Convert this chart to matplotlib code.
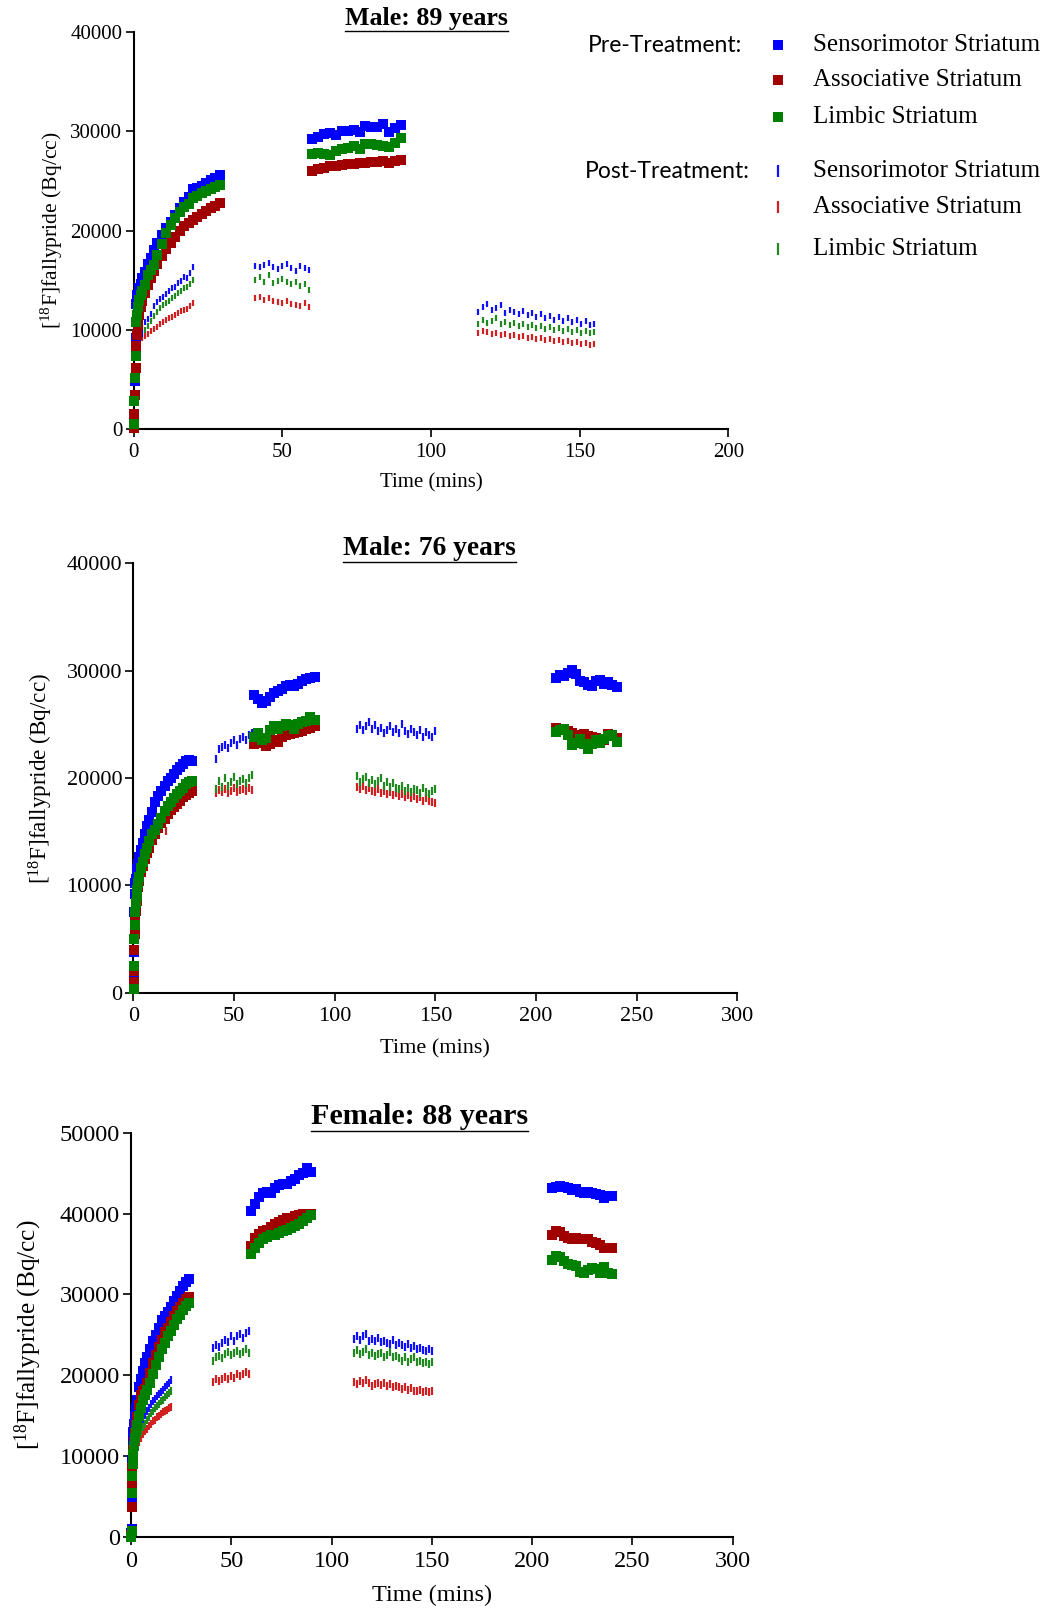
import matplotlib
matplotlib.use("Agg")
import matplotlib.pyplot as plt
from matplotlib.lines import Line2D

plt.rcParams['font.family'] = ['Liberation Serif', 'DejaVu Serif']
plt.rcParams['mathtext.fontset'] = 'custom'
plt.rcParams['mathtext.rm'] = 'Liberation Serif'
plt.rcParams['mathtext.it'] = 'Liberation Serif:italic'

# ------------------------------- frame times (mins) -------------------------------
t_pre1 = [0.1, 0.3, 0.5, 0.7, 0.9, 1.2, 1.6, 2.0, 2.5, 3.0, 4.0, 5.0, 6.0, 7.0, 8.0,
          9.5, 11.0, 12.5, 14.0, 15.5, 17.0, 18.5, 20.0, 21.5, 23.0, 24.5, 26.0, 27.5, 29.0]
t_pre2 = [60, 62, 64, 66, 68, 70, 72, 74, 76, 78, 80, 82, 84, 86, 88, 90]
t_pre3 = [210, 212, 214, 216, 218, 220, 222, 224, 226, 228, 230, 232, 234, 236, 238, 240]
t_post1 = [2, 3, 4, 5, 6, 7, 8, 9, 10, 11, 12, 13, 14, 15, 16, 17, 18, 19, 20]
t_post2 = [41, 42.5, 44, 45.5, 47, 48.5, 50, 51.5, 53, 54.5, 56, 57.5, 59]
t_post3_m89 = [116, 117.5, 119, 120.5, 122, 123.5, 125, 126.5, 128, 129.5, 131, 132.5, 134, 135.5,
               137, 138.5, 140, 141.5, 143, 144.5, 146, 147.5, 149, 150.5, 152, 153.5, 155]
t_post3 = [111, 112.5, 114, 115.5, 117, 118.5, 120, 121.5, 123, 124.5, 126, 127.5, 129, 130.5,
           132, 133.5, 135, 136.5, 138, 139.5, 141, 142.5, 144, 145.5, 147, 148.5, 150]

regions = ['Sensorimotor Striatum', 'Associative Striatum', 'Limbic Striatum']

# ------------------------------- Male: 89 years -------------------------------
m89_pre1_sm = [200, 1200, 4800, 9200, 12600, 13500, 9800, 14200, 14600, 15200, 15800, 16600, 17200, 18000, 18700,
               19500, 20300, 20900, 21600, 22300, 22900, 23400, 24200, 24300, 24500, 24800, 25100, 25300, 25600]
m89_pre1_as = [100, 1500, 3400, 6100, 8400, 9500, 10500, 11500, 12300, 12900, 13700, 14500, 15200, 15900, 16600,
               17400, 18100, 18700, 19300, 19900, 20500, 20800, 21100, 21400, 21700, 22000, 22300, 22500, 22800]
m89_pre1_li = [500, 2800, 5100, 7400, 10800, 11500, 12300, 13000, 13500, 13900, 14500, 15500, 16000, 16500, 17500,
               18600, 19700, 20600, 21300, 21900, 22400, 22700, 23300, 23500, 23800, 24000, 24200, 24400, 24600]
m89_pre2_sm = [29200, 29400, 29700, 29800, 29600, 30000, 30000, 30100, 29900, 30500, 30400, 30400, 30700, 29900, 30300, 30600]
m89_pre2_as = [26000, 26200, 26300, 26500, 26500, 26600, 26700, 26700, 26800, 26800, 26900, 26900, 27000, 26800, 27000, 27100]
m89_pre2_li = [27700, 27800, 27700, 27600, 28000, 28200, 28300, 28500, 28200, 28700, 28700, 28600, 28500, 28400, 28800, 29300]

m89_post1_sm = [9400, 10200, 10800, 11100, 11600, 12400, 12800, 13100, 13300, 13600, 13900, 14200, 14300, 14700,
                14900, 15300, 15200, 15700, 16300]
m89_post1_as = [8800, 9200, 9400, 9600, 9900, 10100, 10300, 10600, 10800, 11000, 11200, 11300, 11500, 11700,
                11900, 12000, 12100, 12400, 12700]
m89_post1_li = [9100, 9600, 10000, 10400, 10900, 11400, 11800, 12200, 12500, 12700, 12900, 13200, 13400, 13700,
                13900, 14200, 14300, 14600, 15000]
m89_post2_sm = [16400, 16300, 16500, 16700, 16300, 16100, 16400, 16600, 16200, 15900, 16400, 16200, 16000]
m89_post2_as = [13200, 13300, 13000, 13200, 12900, 12800, 12700, 12900, 12600, 12500, 12400, 12700, 12300]
m89_post2_li = [15000, 15300, 14800, 15500, 14700, 14900, 15100, 14800, 14600, 14800, 14400, 14600, 14000]
m89_post3_sm = [11800, 12300, 12600, 12000, 12200, 12500, 11700, 12000, 11800, 11600, 11900, 11500, 11700, 11300,
                11600, 11200, 11400, 11000, 11300, 10900, 11200, 10800, 11000, 10600, 10900, 10500, 10600]
m89_post3_as = [9700, 9900, 9800, 9600, 9700, 9500, 9600, 9400, 9500, 9300, 9400, 9200, 9300, 9100,
                9200, 9000, 9100, 8900, 9000, 8800, 8900, 8700, 8800, 8600, 8700, 8500, 8600]
m89_post3_li = [10600, 11000, 10700, 10900, 11200, 10600, 10800, 10500, 10700, 10400, 10600, 10300, 10500, 10200,
                10400, 10100, 10300, 10000, 10200, 9900, 10100, 9800, 10000, 9700, 9900, 9700, 9800]

# ------------------------------- Male: 76 years -------------------------------
m76_pre1_sm = [1500, 3800, 7500, 9200, 10200, 10600, 11100, 11500, 12000, 12600, 13300, 13900, 14800, 15500, 16100,
               16800, 17800, 18300, 18800, 19300, 19700, 20000, 20400, 20700, 21000, 21300, 21600, 21700, 21600]
m76_pre1_as = [1000, 2000, 4000, 5500, 6800, 7600, 8500, 9200, 9800, 10400, 11200, 11800, 12500, 13000, 13500,
               14200, 14800, 15300, 15800, 16200, 16600, 17000, 17300, 17600, 17900, 18200, 18400, 18600, 18800]
m76_pre1_li = [300, 2500, 5000, 6300, 7500, 8400, 9000, 9600, 10200, 10800, 11600, 12200, 12900, 13500, 14100,
               14800, 15200, 15700, 16300, 16900, 17400, 17800, 18100, 18500, 18800, 19100, 19400, 19600, 19700]
m76_pre2_sm = [27700, 27400, 27000, 27200, 27500, 27900, 28100, 28300, 28600, 28700, 28600, 28800, 29000, 29200, 29300, 29400]
m76_pre2_as = [23200, 23500, 23300, 23000, 23200, 23500, 23400, 23800, 24000, 24100, 24200, 24300, 24400, 24600, 24700, 24800]
m76_pre2_li = [23800, 24200, 23500, 23700, 24500, 24800, 24600, 24800, 25000, 24900, 24600, 25000, 25200, 25300, 25700, 25400]
m76_pre3_sm = [29300, 29600, 29500, 29800, 30100, 29700, 29000, 28900, 28700, 28600, 29000, 29100, 28800, 28900, 28700, 28500]
m76_pre3_as = [24700, 24500, 24600, 24400, 24200, 24000, 23900, 24100, 23900, 23800, 23700, 23400, 23500, 24100, 24000, 23700]
m76_pre3_li = [24300, 24500, 24600, 24000, 23100, 23300, 23600, 23200, 22700, 23200, 23500, 23300, 23600, 23900, 24000, 23400]

m76_post1_sm = [9600, 10800, 11600, 12200, 12900, 13500, 14100, 14600, 15100, 15400, 15700, 16100, 16500, 16800,
                17100, 17400, 17800, 18000, 18300]
m76_post1_as = [9000, 10200, 11000, 11600, 12300, 12800, 13300, 13800, 14300, 14600, 14900, 15200, 15600, 15800,
                15100, 16400, 16700, 16900, 17100]
m76_post1_li = [9300, 10500, 11300, 11900, 12600, 13100, 13600, 14100, 14600, 14900, 15200, 15500, 15900, 16100,
                16400, 16700, 17000, 17200, 17400]
m76_post2_sm = [21800, 22700, 22900, 23100, 22800, 23300, 23500, 23100, 23600, 23800, 23500, 24000, 24200]
m76_post2_as = [18600, 18900, 18700, 19000, 18600, 18800, 19100, 18700, 18900, 19000, 18800, 19100, 18900]
m76_post2_li = [19000, 19700, 19200, 20000, 19300, 19600, 20100, 19400, 19700, 19900, 19500, 20000, 20300]
m76_post3_sm = [24600, 24900, 24500, 24800, 25200, 24600, 24900, 24400, 24700, 24200, 24500, 24800, 24300, 24600,
                24200, 25000, 24400, 24100, 24600, 24300, 24000, 24500, 23800, 24300, 24000, 23800, 24400]
m76_post3_as = [19200, 19000, 19300, 18900, 19100, 18800, 18700, 19000, 18600, 18800, 18500, 18700, 18400, 18600,
                18300, 18500, 18200, 18400, 18100, 18300, 18000, 18200, 17900, 18100, 17900, 17800, 17700]
m76_post3_li = [20200, 19600, 19900, 20100, 19500, 19800, 19400, 19700, 20000, 19300, 19600, 19200, 19500, 19100,
                19000, 19300, 18800, 19100, 18700, 19000, 18900, 18600, 19100, 18700, 18500, 18800, 19000]

# ------------------------------- Female: 88 years -------------------------------
f88_pre1_sm = [500, 1000, 5000, 9500, 12000, 13000, 14000, 15000, 16000, 17000, 18500, 19500, 20500, 21500, 22200,
               23200, 24200, 25000, 25800, 26800, 27300, 27800, 28500, 29200, 29800, 30400, 31000, 31500, 31900]
f88_pre1_as = [300, 3700, 6500, 8500, 9800, 10800, 11800, 12800, 13800, 14800, 16300, 17500, 18000, 18300, 19000,
               20300, 21500, 22500, 23500, 24400, 25300, 25900, 26600, 27300, 27900, 28500, 29000, 29400, 29700]
f88_pre1_li = [0, 800, 5500, 7500, 9000, 10300, 11300, 12200, 13000, 13800, 15000, 16000, 17000, 17600, 18200,
               19000, 20200, 21300, 22300, 23200, 24000, 24800, 25500, 26200, 26900, 27500, 28100, 28600, 29000]
f88_pre2_sm = [40300, 41200, 42000, 42500, 42700, 42600, 43200, 43500, 43600, 43700, 44000, 44300, 44800, 45000, 45600, 45200]
f88_pre2_as = [36000, 37000, 37500, 37800, 38000, 38300, 38700, 39000, 39200, 39400, 39500, 39700, 39800, 39900, 40000, 40000]
f88_pre2_li = [35000, 35800, 36400, 36800, 37100, 37300, 37400, 37600, 37800, 38000, 38200, 38400, 38700, 39100, 39500, 39800]
f88_pre3_sm = [43100, 43300, 43400, 43300, 43100, 42900, 43000, 42700, 42600, 42700, 42600, 42400, 42300, 41900, 42200, 42200]
f88_pre3_as = [37400, 37800, 37700, 37200, 37000, 36900, 37000, 36900, 36800, 36800, 36500, 36300, 36100, 35800, 35700, 35800]
f88_pre3_li = [34300, 34800, 34600, 34100, 33800, 33700, 33500, 32800, 32600, 33000, 33300, 33100, 32700, 33400, 32600, 32500]

f88_post1_sm = [12000, 12700, 13400, 14000, 14600, 15100, 15600, 16000, 16400, 16800, 17100, 17400, 17700, 17900,
                18200, 18500, 18800, 19100, 19400]
f88_post1_as = [10500, 11200, 11800, 12300, 12700, 13100, 13400, 13700, 14000, 14300, 14500, 14800, 15000, 15200,
                15400, 15600, 15700, 15900, 16100]
f88_post1_li = [11200, 11900, 12500, 13100, 13600, 14000, 14500, 14900, 15300, 15600, 15900, 16200, 16500, 16800,
                17000, 17300, 17500, 17800, 18000]
f88_post2_sm = [23400, 23700, 23500, 24000, 24400, 24100, 24800, 24300, 24900, 25100, 24600, 25200, 25500]
f88_post2_as = [19200, 19500, 19300, 19600, 19800, 19500, 19900, 19700, 20100, 19900, 20200, 20400, 20100]
f88_post2_li = [21800, 22200, 22400, 22100, 22600, 22900, 22500, 22800, 23000, 22600, 22900, 23200, 22800]
f88_post3_sm = [24500, 24800, 24400, 24900, 25100, 24300, 24500, 24200, 24600, 24100, 24300, 24000, 23900, 24400,
                23800, 24000, 23700, 23500, 23900, 23400, 23600, 23200, 23400, 23100, 23000, 23200, 23000]
f88_post3_as = [19200, 18900, 19300, 19000, 19400, 19100, 18700, 18900, 19100, 18800, 19000, 18700, 18900, 18600,
                18700, 18500, 18300, 18600, 18200, 18400, 18100, 18000, 18200, 17900, 18000, 17900, 18000]
f88_post3_li = [22800, 23100, 22600, 22900, 23200, 22500, 22700, 22400, 22600, 22800, 22300, 22500, 22900, 22200,
                22400, 22100, 21800, 22300, 21700, 22000, 22300, 21600, 21800, 21500, 21700, 21400, 21600]

pre_colors = ['#0000FF', '#A00000', '#008000']
post_colors = ['#1010FF', '#D02020', '#208A20']

panels = [
    dict(title='Male: 89 years', xmax=200, ymax=40000,
         pre=[(t_pre1, [m89_pre1_sm, m89_pre1_as, m89_pre1_li]),
              (t_pre2, [m89_pre2_sm, m89_pre2_as, m89_pre2_li])],
         post=[(t_post1, [m89_post1_sm, m89_post1_as, m89_post1_li]),
               (t_post2, [m89_post2_sm, m89_post2_as, m89_post2_li]),
               (t_post3_m89, [m89_post3_sm, m89_post3_as, m89_post3_li])],
         rect=[133.5, 32, 728.3, 429], fs=15, ms=6.6, title_x=0.492, title_y=1.035,
         ylab_x=-0.138, xlab_y=-0.136),
    dict(title='Male: 76 years', xmax=300, ymax=40000,
         pre=[(t_pre1, [m76_pre1_sm, m76_pre1_as, m76_pre1_li]),
              (t_pre2, [m76_pre2_sm, m76_pre2_as, m76_pre2_li]),
              (t_pre3, [m76_pre3_sm, m76_pre3_as, m76_pre3_li])],
         post=[(t_post1, [m76_post1_sm, m76_post1_as, m76_post1_li]),
               (t_post2, [m76_post2_sm, m76_post2_as, m76_post2_li]),
               (t_post3, [m76_post3_sm, m76_post3_as, m76_post3_li])],
         rect=[133.3, 563.3, 737.3, 992.7], fs=16, ms=7.5, title_x=0.49, title_y=1.034,
         ylab_x=-0.153, xlab_y=-0.131),
    dict(title='Female: 88 years', xmax=300, ymax=50000,
         pre=[(t_pre1, [f88_pre1_sm, f88_pre1_as, f88_pre1_li]),
              (t_pre2, [f88_pre2_sm, f88_pre2_as, f88_pre2_li]),
              (t_pre3, [f88_pre3_sm, f88_pre3_as, f88_pre3_li])],
         post=[(t_post1, [f88_post1_sm, f88_post1_as, f88_post1_li]),
               (t_post2, [f88_post2_sm, f88_post2_as, f88_post2_li]),
               (t_post3, [f88_post3_sm, f88_post3_as, f88_post3_li])],
         rect=[131, 1132.7, 732.5, 1537], fs=17.5, ms=7.5, title_x=0.479, title_y=1.039,
         ylab_x=-0.171, xlab_y=-0.1435),
]

W, H = 1053, 1611
fig = plt.figure(figsize=(W / 100, H / 100), dpi=100)

titles = []
for p in panels:
    x0, y0, x1, y1 = p['rect']
    ax = fig.add_axes([x0 / W, 1 - y1 / H, (x1 - x0) / W, (y1 - y0) / H])

    # post-treatment: thin vertical ticks
    for t, series in p['post']:
        for vals, c in zip(series, post_colors):
            ax.plot(t, vals, ls='none', marker='|', ms=p['ms'] * 0.75, mew=1.6, color=c,
                    clip_on=False, zorder=2)
    # pre-treatment: filled squares
    for t, series in p['pre']:
        for vals, c in zip(series, pre_colors):
            ax.plot(t, vals, ls='none', marker='s', ms=p['ms'], mew=0, color=c,
                    clip_on=False, zorder=3)

    ax.set_xlim(0, p['xmax'])
    ax.set_ylim(0, p['ymax'])
    ax.set_xticks(range(0, p['xmax'] + 1, 50))
    ax.set_yticks(range(0, p['ymax'] + 1, 10000))
    for s in ['top', 'right']:
        ax.spines[s].set_visible(False)
    for s in ['left', 'bottom']:
        ax.spines[s].set_linewidth(1.5)
    ax.tick_params(direction='out', length=6, width=1.2, labelsize=p['fs'], pad=2)
    ax.tick_params(axis='x', pad=4)
    ax.set_xlabel('Time (mins)', fontsize=p['fs'], va='center')
    ax.set_ylabel(r'[$^{\mathrm{18}}$F]fallypride (Bq/cc)', fontsize=p['fs'] * 1.04, va='center')
    ax.yaxis.set_label_coords(p['ylab_x'], 0.5)
    ax.xaxis.set_label_coords(0.5, p['xlab_y'])
    tt = ax.text(p['title_x'], p['title_y'], p['title'], transform=ax.transAxes,
                 ha='center', va='center', fontsize=p['fs'] * 1.24, fontweight='bold')
    titles.append(tt)

# ------------------------------- legend (top right) -------------------------------
def fx(px):
    return px / W

def fy(py):
    return 1 - py / H

fig.text(fx(588), fy(46), 'Pre-Treatment:', family=['Lato', 'DejaVu Sans'], fontsize=16.5,
         ha='left', va='center')
fig.text(fx(585), fy(172), 'Post-Treatment:', family=['Lato', 'DejaVu Sans'], fontsize=16.5,
         ha='left', va='center')
pre_rows = [45, 80, 117]
post_rows = [171, 207, 249]
for lab, c, yy in zip(regions, pre_colors, pre_rows):
    fig.add_artist(Line2D([fx(778)], [fy(yy)], ls='none', marker='s', ms=6.5, mew=0, color=c))
    fig.text(fx(813), fy(yy), lab, fontsize=18, ha='left', va='center')
for lab, c, yy in zip(regions, post_colors, post_rows):
    fig.add_artist(Line2D([fx(778)], [fy(yy)], ls='none', marker='|', ms=9, mew=1.6, color=c))
    fig.text(fx(813), fy(yy), lab, fontsize=18, ha='left', va='center')

# underline titles
fig.canvas.draw()
r = fig.canvas.get_renderer()
for tt in titles:
    bb = tt.get_window_extent(r)
    yline = bb.y0 - 1
    fig.add_artist(Line2D([bb.x0 / W, bb.x1 / W], [yline / H, yline / H], color='black', lw=1.0))

fig.savefig('out.png', dpi=100)
